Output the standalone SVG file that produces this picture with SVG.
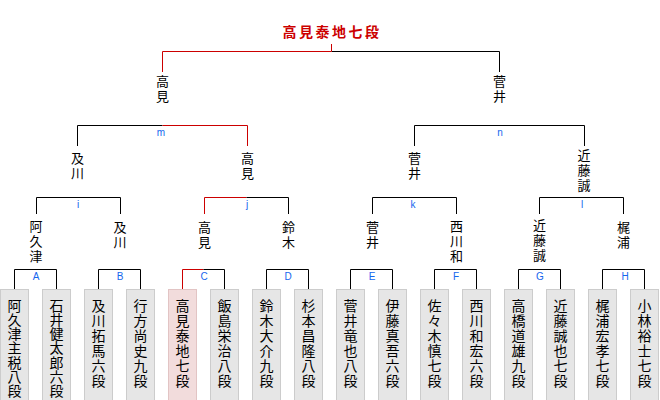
<svg xmlns="http://www.w3.org/2000/svg" width="660" height="400" viewBox="0 0 660 400">
<style>
.bg{fill:#ffffff}
.ln{fill:none;stroke:#000000;stroke-width:1}
.rd{fill:none;stroke:#cc0000;stroke-width:1}
.box{fill:#e6e6e6;stroke:#cccccc;stroke-width:1}
.wbox{fill:#f2dcdc;stroke:#e2c4c4;stroke-width:1}
.nm{font-family:"Noto Sans CJK JP","Noto Sans CJK SC",sans-serif;font-size:13px;fill:#000000;text-anchor:middle}
.lf{font-family:"Noto Sans CJK JP","Noto Sans CJK SC",sans-serif;font-size:14px;fill:#000000;text-anchor:middle}
.lb{font-family:"Liberation Sans",Arial,sans-serif;font-size:10px;fill:#1466ee;text-anchor:middle}
.tt{font-family:"Noto Sans CJK JP","Noto Sans CJK SC",sans-serif;font-size:14px;font-weight:bold;fill:#cc0000;text-anchor:middle;letter-spacing:2.5px}
</style>
<rect class="bg" x="0" y="0" width="660" height="400"/>

<g id="connectors">
  <path class="ln" d="M331.5 51.5 H499.5 V72"/>
  <path class="rd" d="M331.5 44 V51.5 H162.5 V72"/>
  <path class="ln" d="M77.5 146 V125.5 H162.5"/>
  <path class="rd" d="M162.5 125.5 H247.5 V146"/>
  <path class="ln" d="M414.5 146 V125.5 H584.5 V146"/>
  <path class="ln" d="M36.5 214 V197.5 H120.5 V214"/>
  <path class="rd" d="M204.5 214 V197.5 H246.5"/>
  <path class="ln" d="M246.5 197.5 H288.5 V214"/>
  <path class="ln" d="M372.5 214 V197.5 H456.5 V214"/>
  <path class="ln" d="M539.5 214 V197.5 H623.5 V214"/>
  <path class="ln" d="M14.5 289.5 V269.5 H56.5 V289.5"/>
  <path class="ln" d="M98.5 289.5 V269.5 H140.5 V289.5"/>
  <path class="rd" d="M182.5 289.5 V269.5 H203.5"/>
  <path class="ln" d="M203.5 269.5 H224.5 V289.5"/>
  <path class="ln" d="M266.5 289.5 V269.5 H308.5 V289.5"/>
  <path class="ln" d="M350.5 289.5 V269.5 H392.5 V289.5"/>
  <path class="ln" d="M434.5 289.5 V269.5 H476.5 V289.5"/>
  <path class="ln" d="M518.5 289.5 V269.5 H560.5 V289.5"/>
  <path class="ln" d="M602.5 289.5 V269.5 H644.5 V289.5"/>
</g>

<g id="labels">
  <text class="lb" x="161" y="136">m</text>
  <text class="lb" x="500" y="136">n</text>
  <text class="lb" x="78" y="207.5">i</text>
  <text class="lb" x="247" y="207.5">j</text>
  <text class="lb" x="413" y="207.5">k</text>
  <text class="lb" x="582" y="207.5">l</text>
  <text class="lb" x="36" y="279.5">A</text>
  <text class="lb" x="120" y="279.5">B</text>
  <text class="lb" x="204" y="279.5">C</text>
  <text class="lb" x="288" y="279.5">D</text>
  <text class="lb" x="372" y="279.5">E</text>
  <text class="lb" x="456" y="279.5">F</text>
  <text class="lb" x="540" y="279.5">G</text>
  <text class="lb" x="625" y="279.5">H</text>
</g>

<g id="champion"><text class="tt" x="332" y="36.5">高見泰地七段</text></g>

<g id="final-takami"><text class="nm" x="162.5" y="86"><tspan x="162.5">高</tspan><tspan x="162.5" dy="15">見</tspan></text></g>
<g id="final-sugai"><text class="nm" x="499.5" y="86"><tspan x="499.5">菅</tspan><tspan x="499.5" dy="15">井</tspan></text></g>

<g id="r3-oikawa"><text class="nm" x="77.5" y="162.5"><tspan x="77.5">及</tspan><tspan x="77.5" dy="15">川</tspan></text></g>
<g id="r3-takami"><text class="nm" x="247.5" y="162.5"><tspan x="247.5">高</tspan><tspan x="247.5" dy="15">見</tspan></text></g>
<g id="r3-sugai"><text class="nm" x="414.5" y="162.5"><tspan x="414.5">菅</tspan><tspan x="414.5" dy="15">井</tspan></text></g>
<g id="r3-kondo"><text class="nm" x="584" y="160"><tspan x="584">近</tspan><tspan x="584" dy="15">藤</tspan><tspan x="584" dy="15">誠</tspan></text></g>

<g id="r2-akutsu"><text class="nm" x="36" y="231"><tspan x="36">阿</tspan><tspan x="36" dy="15">久</tspan><tspan x="36" dy="15">津</tspan></text></g>
<g id="r2-oikawa"><text class="nm" x="120" y="232"><tspan x="120">及</tspan><tspan x="120" dy="15">川</tspan></text></g>
<g id="r2-takami"><text class="nm" x="204.5" y="232"><tspan x="204.5">高</tspan><tspan x="204.5" dy="15">見</tspan></text></g>
<g id="r2-suzuki"><text class="nm" x="288.5" y="232"><tspan x="288.5">鈴</tspan><tspan x="288.5" dy="15">木</tspan></text></g>
<g id="r2-sugai"><text class="nm" x="372.5" y="232"><tspan x="372.5">菅</tspan><tspan x="372.5" dy="15">井</tspan></text></g>
<g id="r2-nishikawa"><text class="nm" x="456.5" y="231"><tspan x="456.5">西</tspan><tspan x="456.5" dy="15">川</tspan><tspan x="456.5" dy="15">和</tspan></text></g>
<g id="r2-kondo"><text class="nm" x="539.5" y="230"><tspan x="539.5">近</tspan><tspan x="539.5" dy="15">藤</tspan><tspan x="539.5" dy="15">誠</tspan></text></g>
<g id="r2-kajiura"><text class="nm" x="623.5" y="232"><tspan x="623.5">梶</tspan><tspan x="623.5" dy="15">浦</tspan></text></g>

<g id="leaf-1"><rect class="box" x="0.5" y="289.5" width="28" height="120"/><text class="lf" y="310.5"><tspan x="14.5">阿</tspan><tspan x="14.5" dy="14.3">久</tspan><tspan x="14.5" dy="14.3">津</tspan><tspan x="14.5" dy="14.3">主</tspan><tspan x="14.5" dy="14.3">税</tspan><tspan x="14.5" dy="14.3">八</tspan><tspan x="14.5" dy="14.3">段</tspan></text></g>
<g id="leaf-2"><rect class="box" x="42.5" y="289.5" width="28" height="120"/><text class="lf" y="310.5"><tspan x="56.5">石</tspan><tspan x="56.5" dy="14.3">井</tspan><tspan x="56.5" dy="14.3">健</tspan><tspan x="56.5" dy="14.3">太</tspan><tspan x="56.5" dy="14.3">郎</tspan><tspan x="56.5" dy="14.3">六</tspan><tspan x="56.5" dy="14.3">段</tspan></text></g>
<g id="leaf-3"><rect class="box" x="84.5" y="289.5" width="28" height="120"/><text class="lf" y="311"><tspan x="98.5">及</tspan><tspan x="98.5" dy="15">川</tspan><tspan x="98.5" dy="15">拓</tspan><tspan x="98.5" dy="15">馬</tspan><tspan x="98.5" dy="15">六</tspan><tspan x="98.5" dy="15">段</tspan></text></g>
<g id="leaf-4"><rect class="box" x="126.5" y="289.5" width="28" height="120"/><text class="lf" y="311"><tspan x="140.5">行</tspan><tspan x="140.5" dy="15">方</tspan><tspan x="140.5" dy="15">尚</tspan><tspan x="140.5" dy="15">史</tspan><tspan x="140.5" dy="15">九</tspan><tspan x="140.5" dy="15">段</tspan></text></g>
<g id="leaf-5"><rect class="wbox" x="168.5" y="289.5" width="28" height="120"/><text class="lf" y="311"><tspan x="182.5">高</tspan><tspan x="182.5" dy="15">見</tspan><tspan x="182.5" dy="15">泰</tspan><tspan x="182.5" dy="15">地</tspan><tspan x="182.5" dy="15">七</tspan><tspan x="182.5" dy="15">段</tspan></text></g>
<g id="leaf-6"><rect class="box" x="210.5" y="289.5" width="28" height="120"/><text class="lf" y="311"><tspan x="224.5">飯</tspan><tspan x="224.5" dy="15">島</tspan><tspan x="224.5" dy="15">栄</tspan><tspan x="224.5" dy="15">治</tspan><tspan x="224.5" dy="15">八</tspan><tspan x="224.5" dy="15">段</tspan></text></g>
<g id="leaf-7"><rect class="box" x="252.5" y="289.5" width="28" height="120"/><text class="lf" y="311"><tspan x="266.5">鈴</tspan><tspan x="266.5" dy="15">木</tspan><tspan x="266.5" dy="15">大</tspan><tspan x="266.5" dy="15">介</tspan><tspan x="266.5" dy="15">九</tspan><tspan x="266.5" dy="15">段</tspan></text></g>
<g id="leaf-8"><rect class="box" x="294.5" y="289.5" width="28" height="120"/><text class="lf" y="311"><tspan x="308.5">杉</tspan><tspan x="308.5" dy="15">本</tspan><tspan x="308.5" dy="15">昌</tspan><tspan x="308.5" dy="15">隆</tspan><tspan x="308.5" dy="15">八</tspan><tspan x="308.5" dy="15">段</tspan></text></g>
<g id="leaf-9"><rect class="box" x="336.5" y="289.5" width="28" height="120"/><text class="lf" y="311"><tspan x="350.5">菅</tspan><tspan x="350.5" dy="15">井</tspan><tspan x="350.5" dy="15">竜</tspan><tspan x="350.5" dy="15">也</tspan><tspan x="350.5" dy="15">八</tspan><tspan x="350.5" dy="15">段</tspan></text></g>
<g id="leaf-10"><rect class="box" x="378.5" y="289.5" width="28" height="120"/><text class="lf" y="311"><tspan x="392.5">伊</tspan><tspan x="392.5" dy="15">藤</tspan><tspan x="392.5" dy="15">真</tspan><tspan x="392.5" dy="15">吾</tspan><tspan x="392.5" dy="15">六</tspan><tspan x="392.5" dy="15">段</tspan></text></g>
<g id="leaf-11"><rect class="box" x="420.5" y="289.5" width="28" height="120"/><text class="lf" y="311"><tspan x="434.5">佐</tspan><tspan x="434.5" dy="15">々</tspan><tspan x="434.5" dy="15">木</tspan><tspan x="434.5" dy="15">慎</tspan><tspan x="434.5" dy="15">七</tspan><tspan x="434.5" dy="15">段</tspan></text></g>
<g id="leaf-12"><rect class="box" x="462.5" y="289.5" width="28" height="120"/><text class="lf" y="311"><tspan x="476.5">西</tspan><tspan x="476.5" dy="15">川</tspan><tspan x="476.5" dy="15">和</tspan><tspan x="476.5" dy="15">宏</tspan><tspan x="476.5" dy="15">六</tspan><tspan x="476.5" dy="15">段</tspan></text></g>
<g id="leaf-13"><rect class="box" x="504.5" y="289.5" width="28" height="120"/><text class="lf" y="311"><tspan x="518.5">高</tspan><tspan x="518.5" dy="15">橋</tspan><tspan x="518.5" dy="15">道</tspan><tspan x="518.5" dy="15">雄</tspan><tspan x="518.5" dy="15">九</tspan><tspan x="518.5" dy="15">段</tspan></text></g>
<g id="leaf-14"><rect class="box" x="546.5" y="289.5" width="28" height="120"/><text class="lf" y="311"><tspan x="560.5">近</tspan><tspan x="560.5" dy="15">藤</tspan><tspan x="560.5" dy="15">誠</tspan><tspan x="560.5" dy="15">也</tspan><tspan x="560.5" dy="15">七</tspan><tspan x="560.5" dy="15">段</tspan></text></g>
<g id="leaf-15"><rect class="box" x="588.5" y="289.5" width="28" height="120"/><text class="lf" y="311"><tspan x="602.5">梶</tspan><tspan x="602.5" dy="15">浦</tspan><tspan x="602.5" dy="15">宏</tspan><tspan x="602.5" dy="15">孝</tspan><tspan x="602.5" dy="15">七</tspan><tspan x="602.5" dy="15">段</tspan></text></g>
<g id="leaf-16"><rect class="box" x="630.5" y="289.5" width="28" height="120"/><text class="lf" y="311"><tspan x="644.5">小</tspan><tspan x="644.5" dy="15">林</tspan><tspan x="644.5" dy="15">裕</tspan><tspan x="644.5" dy="15">士</tspan><tspan x="644.5" dy="15">七</tspan><tspan x="644.5" dy="15">段</tspan></text></g>
</svg>
